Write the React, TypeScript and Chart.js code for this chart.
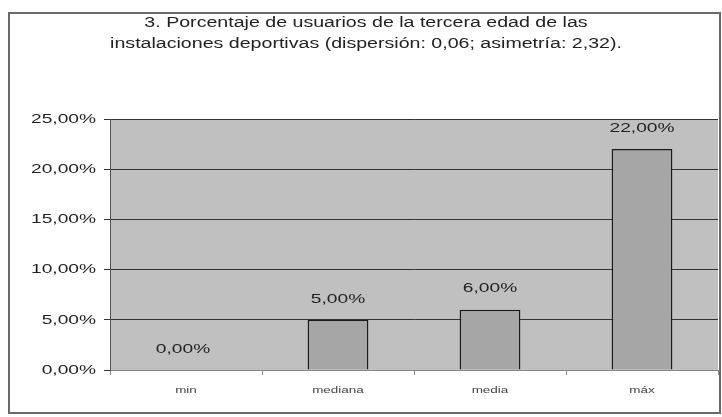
import React, { useEffect, useRef } from "react";
import { Chart, registerables } from "chart.js";

Chart.register(...registerables);

const titleLines = [
  "3. Porcentaje de usuarios de la tercera edad de las",
  "instalaciones deportivas (dispersión: 0,06; asimetría: 2,32).",
];
const categories = ["min", "mediana", "media", "máx"];
const values = [0, 5, 6, 22];
const yTicks = [0, 5, 10, 15, 20, 25];

const FONT = "'Liberation Sans', Arial, sans-serif";
const SX = 1.42;

const fmt = (v: number) => v.toFixed(2).replace(".", ",") + "%";

function drawText(ctx: any, text: string, x: number, y: number, align: string, size: number, color = "#222") {
  ctx.save();
  ctx.translate(x, y);
  ctx.scale(SX, 1);
  ctx.font = `${size}px ${FONT}`;
  ctx.fillStyle = color;
  ctx.textAlign = align;
  ctx.textBaseline = "middle";
  ctx.fillText(text, 0, 0);
  ctx.restore();
}

const decor = {
  id: "decor",
  beforeDraw(chart: any) {
    const { ctx, chartArea } = chart;
    ctx.save();
    ctx.fillStyle = "#ffffff";
    ctx.fillRect(0, 0, chart.width, chart.height);
    ctx.fillStyle = "#c0c0c0";
    ctx.fillRect(chartArea.left, chartArea.top, chartArea.right - chartArea.left, chartArea.bottom - chartArea.top);
    ctx.strokeStyle = "#6a6a6a";
    ctx.lineWidth = 2;
    ctx.strokeRect(9, 13, 711, 400);
    ctx.restore();
    drawText(ctx, titleLines[0], 366, 23, "center", 13.8);
    drawText(ctx, titleLines[1], 366, 44, "center", 13.8);
  },
  afterDraw(chart: any) {
    const { ctx } = chart;
    const y = chart.scales.y;
    const x = chart.scales.x;
    yTicks.forEach((v) => {
      drawText(ctx, fmt(v), 96, y.getPixelForValue(v), "right", 13.5);
    });
    categories.forEach((c, i) => {
      drawText(ctx, c, x.getPixelForValue(i), 390, "center", 9.5, "#444");
    });
  },
  afterDatasetsDraw(chart: any) {
    const { ctx } = chart;
    const meta = chart.getDatasetMeta(0);
    meta.data.forEach((el: any, i: number) => {
      drawText(ctx, fmt(values[i]), el.x - (values[i] === 0 ? 3 : 0), el.y - 21, "center", 13.5);
    });
  },
};

export default function App() {
  const ref = useRef<HTMLCanvasElement>(null);
  useEffect(() => {
    const chart = new Chart(ref.current!, {
      type: "bar",
      data: {
        labels: categories,
        datasets: [
          {
            data: values,
            backgroundColor: "#a6a6a6",
            borderColor: "#1a1a1a",
            borderWidth: 1.5,
            barPercentage: 0.4,
            categoryPercentage: 1,
          },
        ],
      },
      options: {
        animation: false,
        responsive: false,
        devicePixelRatio: 1,
        layout: { padding: { top: 119, right: 4, left: 0, bottom: 0 } },
        plugins: { legend: { display: false }, title: { display: false }, tooltip: { enabled: false } },
        scales: {
          x: {
            afterFit(s: any) {
              s.height = 47;
            },
            grid: { display: true, drawOnChartArea: false, drawTicks: true, tickLength: 5, color: "#888", offset: true },
            border: { color: "#888", width: 1 },
            ticks: { color: "rgba(0,0,0,0)", font: { size: 9, family: FONT }, padding: 8 },
          },
          y: {
            min: 0,
            max: 25,
            afterFit(s: any) {
              s.width = 110;
            },
            afterBuildTicks(s: any) {
              s.ticks = yTicks.map((v) => ({ value: v }));
            },
            grid: { color: "#333", lineWidth: 1, drawTicks: true, tickLength: 6 },
            border: { color: "#555", width: 1 },
            ticks: {
              color: "rgba(0,0,0,0)",
              font: { size: 12, family: FONT },
              padding: 6,
              callback: (v: any) => fmt(Number(v)),
            },
          },
        },
      },
      plugins: [decor],
    });
    return () => chart.destroy();
  }, []);
  return (
    <div style={{ position: "fixed", left: 0, top: 0, width: 722, height: 417 }}>
      <canvas ref={ref} width={722} height={417} style={{ display: "block", width: 722, height: 417 }} />
    </div>
  );
}
